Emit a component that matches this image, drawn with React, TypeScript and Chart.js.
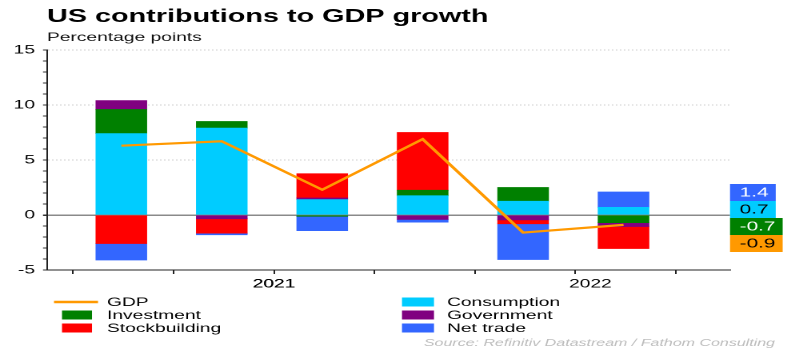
import React, { useEffect, useRef } from 'react';
import { Chart, registerables } from 'chart.js';

Chart.register(...registerables);

// ---------- data ----------
const quarters = ['2021 Q1', '2021 Q2', '2021 Q3', '2021 Q4', '2022 Q1', '2022 Q2'];
const consumption = [7.4, 7.9, 1.4, 1.75, 1.25, 0.7];
const investment = [2.2, 0.6, -0.12, 0.5, 1.25, -0.7];
const government = [0.8, -0.35, 0.15, -0.4, -0.45, -0.35];
const stockbuilding = [-2.6, -1.3, 2.2, 5.25, -0.35, -2.0];
const netTrade = [-1.5, -0.15, -1.3, -0.25, -3.25, 1.4];
const gdp = [6.3, 6.7, 2.3, 6.9, -1.6, -0.9];

const yearLabels = ['2021', '2022'];
const yearLabelPositions = [2, 5.15]; // in quarters from start of 2021
const quarterTickPositions = [0, 1, 2, 3, 4, 5, 6];

const TITLE = 'US contributions to GDP growth';
const SUBTITLE = 'Percentage points';
const SOURCE = 'Source: Refinitiv Datastream / Fathom Consulting';

const legendColumns = [
  ['GDP', 'Investment', 'Stockbuilding'],
  ['Consumption', 'Government', 'Net trade'],
];
const valueLabelSeries = ['Net trade', 'Consumption', 'Investment', 'GDP'];
const valueLabelTextColors = ['#ffffff', '#000000', '#ffffff', '#000000'];

// ---------- styling ----------
const FONT = '"Liberation Sans", Arial, Helvetica, sans-serif';
const INNER_W = 492;
const H = 349;
const S = 787 / INNER_W; // horizontal stretch of the rendered chart
const px = (X: number) => X / S;

const COLORS = {
  consumption: '#00CCFF',
  investment: '#008000',
  government: '#800080',
  stockbuilding: '#FF0000',
  netTrade: '#3366FF',
  gdp: '#FF9900',
};

const toPoints = (arr: number[]) => arr.map((v, i) => ({ x: i + 0.48, y: v }));

const overlayPlugin = {
  id: 'overlay',
  afterDraw(chart: any) {
    const ctx = chart.ctx as CanvasRenderingContext2D;
    const yScale = chart.scales.y;
    const area = chart.chartArea;
    ctx.save();

    // legend (two columns)
    const rowYs = [302, 315, 328];
    const colBox = [[px(62), px(92)], [px(402), px(434)]];
    const colLine = [[px(54), px(98)], [px(394), px(438)]];
    const colText = [px(107), px(447)];
    ctx.font = `12px ${FONT}`;
    ctx.textBaseline = 'middle';
    ctx.textAlign = 'left';
    legendColumns.forEach((col, ci) => {
      col.forEach((label, ri) => {
        const ds = chart.data.datasets.find((d: any) => d.label === label);
        if (!ds) return;
        const yy = rowYs[ri];
        if (ds.type === 'line') {
          ctx.strokeStyle = ds.borderColor;
          ctx.lineWidth = 2.5;
          ctx.beginPath();
          ctx.moveTo(colLine[ci][0], yy);
          ctx.lineTo(colLine[ci][1], yy);
          ctx.stroke();
        } else {
          ctx.fillStyle = ds.backgroundColor;
          ctx.fillRect(colBox[ci][0], yy - 4.5, colBox[ci][1] - colBox[ci][0], 9);
        }
        ctx.fillStyle = '#000';
        ctx.fillText(label, colText[ci], yy + 0.5);
      });
    });

    // latest-value labels on the right
    const zeroY = yScale.getPixelForValue(0);
    const items = valueLabelSeries.map((label, i) => {
      const ds = chart.data.datasets.find((d: any) => d.label === label);
      const last = ds.data[ds.data.length - 1].y as number;
      return {
        v: last,
        bg: ds.type === 'line' ? ds.borderColor : ds.backgroundColor,
        fg: valueLabelTextColors[i],
      };
    });
    const pos = items.filter((it) => it.v >= 0).sort((a, b) => a.v - b.v);
    const neg = items.filter((it) => it.v < 0).sort((a, b) => b.v - a.v);
    const boundary = zeroY + 3;
    const boxH = 17;
    ctx.font = `13px ${FONT}`;
    const drawBox = (it: any, top: number) => {
      const txt = it.v.toFixed(1);
      const tw = ctx.measureText(txt).width;
      const left = area.right;
      ctx.fillStyle = it.bg;
      ctx.fillRect(left, top, tw + 10.5, boxH);
      ctx.fillStyle = it.fg;
      ctx.fillText(txt, left + 6, top + boxH / 2 + 0.5);
    };
    pos.forEach((it, k) => drawBox(it, boundary - (k + 1) * boxH));
    neg.forEach((it, k) => drawBox(it, boundary + k * boxH));

    // source
    ctx.font = `italic 10px ${FONT}`;
    ctx.fillStyle = '#bdbdbd';
    ctx.textAlign = 'right';
    ctx.fillText(SOURCE, px(775), 343);

    ctx.restore();
  },
};

export default function App() {
  const ref = useRef<HTMLCanvasElement>(null);

  useEffect(() => {
    if (!ref.current) return;
    const barBase = { barThickness: px(50.5), borderWidth: 0, order: 1, type: 'bar' as const };
    const chart = new Chart(ref.current, {
      type: 'bar',
      data: {
        labels: quarters,
        datasets: [
          {
            type: 'line',
            label: 'GDP',
            data: toPoints(gdp),
            borderColor: COLORS.gdp,
            backgroundColor: COLORS.gdp,
            borderWidth: 2.2,
            pointRadius: 0,
            tension: 0,
            stack: 'gdp',
            order: 0,
          } as any,
          { ...barBase, label: 'Consumption', data: toPoints(consumption), backgroundColor: COLORS.consumption },
          { ...barBase, label: 'Investment', data: toPoints(investment), backgroundColor: COLORS.investment },
          { ...barBase, label: 'Government', data: toPoints(government), backgroundColor: COLORS.government },
          { ...barBase, label: 'Stockbuilding', data: toPoints(stockbuilding), backgroundColor: COLORS.stockbuilding },
          { ...barBase, label: 'Net trade', data: toPoints(netTrade), backgroundColor: COLORS.netTrade },
        ] as any,
      },
      options: {
        animation: false,
        responsive: true,
        maintainAspectRatio: false,
        devicePixelRatio: 2,
        events: [],
        layout: {
          padding: { left: 0, right: INNER_W - px(730), top: 0, bottom: 55 },
        },
        plugins: {
          title: {
            display: true,
            text: TITLE,
            align: 'start',
            fullSize: false,
            color: '#000',
            font: { family: FONT, size: 18, weight: 'bold' },
            padding: { top: 6, bottom: 0 },
          },
          subtitle: {
            display: true,
            text: SUBTITLE,
            align: 'start',
            fullSize: false,
            color: '#111',
            font: { family: FONT, size: 12 },
            padding: { top: 3, bottom: 5 },
          },
          legend: { display: false },
          tooltip: { enabled: false },
        },
        scales: {
          x: {
            type: 'linear',
            stacked: true,
            min: -0.26,
            max: 6.54,
            offset: false,
            afterFit(scale: any) {
              scale.height = 24;
            },
            afterBuildTicks(scale: any) {
              const vals = [...quarterTickPositions, ...yearLabelPositions].sort((a, b) => a - b);
              scale.ticks = vals.map((v) => ({ value: v }));
            },
            grid: {
              offset: false,
              drawOnChartArea: false,
              drawTicks: true,
              tickLength: 4,
              color: '#000',
              tickColor: (ctx: any) =>
                ctx.tick && quarterTickPositions.includes(ctx.tick.value) ? '#222' : 'rgba(0,0,0,0)',
            },
            border: { display: true, color: '#222', width: 1 },
            ticks: {
              autoSkip: false,
              maxRotation: 0,
              padding: 3,
              color: '#000',
              font: { family: FONT, size: 12 },
              callback: (v: any) => {
                const idx = yearLabelPositions.indexOf(Number(v));
                return idx >= 0 ? yearLabels[idx] : '';
              },
            },
          },
          y: {
            type: 'linear',
            stacked: true,
            min: -5,
            max: 15,
            afterFit(scale: any) {
              scale.width = px(47);
            },
            grid: {
              drawTicks: true,
              tickLength: 2.5,
              tickColor: '#333',
              color: (ctx: any) => {
                const v = ctx.tick ? ctx.tick.value : null;
                if (v === 0) return '#8a8a8a';
                if (v !== null && v !== -5 && v % 5 === 0) return '#cfcfcf';
                return 'rgba(0,0,0,0)';
              },
              lineWidth: (ctx: any) => (ctx.tick && ctx.tick.value === 0 ? 1.5 : 1),
            },
            border: {
              display: true,
              color: '#222',
              width: 1,
              dash: (ctx: any) => (ctx.tick && ctx.tick.value !== 0 ? [1, 1.5] : []),
            } as any,
            ticks: {
              stepSize: 1,
              autoSkip: false,
              padding: 5,
              color: '#000',
              font: { family: FONT, size: 12 },
              callback: (v: any) => (Number(v) % 5 === 0 ? String(v) : ''),
            },
          },
        },
      } as any,
      plugins: [overlayPlugin],
    });
    return () => chart.destroy();
  }, []);

  return (
    <div
      style={{
        position: 'absolute',
        left: 0,
        top: 0,
        width: 787,
        height: H,
        overflow: 'hidden',
        background: '#fff',
      }}
    >
      <div
        style={{
          position: 'relative',
          width: INNER_W,
          height: H,
          transform: `scaleX(${S})`,
          transformOrigin: '0 0',
        }}
      >
        <canvas ref={ref} />
      </div>
    </div>
  );
}
